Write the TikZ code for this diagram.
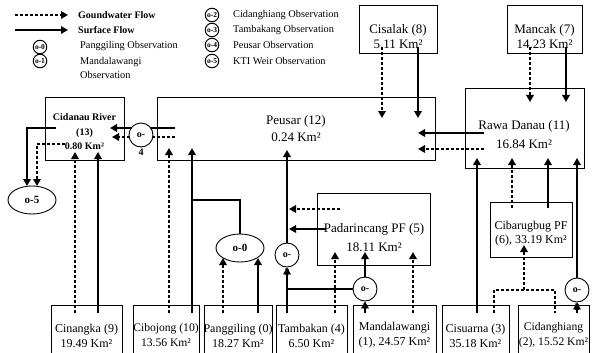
\documentclass[tikz,border=0pt]{standalone}
\usepackage{fontspec}
\setmainfont{Liberation Serif}
\usetikzlibrary{arrows.meta,shapes.geometric}

\begin{document}
\begin{tikzpicture}[x=1pt,y=-1pt,
  box/.style={draw,line width=0.8pt,inner sep=0pt},
  boxtext/.style={align=center,inner sep=0pt,font=\fontsize{13}{15}\selectfont},
  basin/.style={align=center,inner sep=0pt,font=\fontsize{12}{15}\selectfont},
  surf/.style={line width=2.6pt,-{Triangle[length=7pt,width=7.5pt]}},
  gw/.style={line width=2.6pt,dash pattern=on 2.6pt off 2.4pt,-{Triangle[length=7pt,width=7.5pt]}},
  surfline/.style={line width=2.6pt},
  gwline/.style={line width=2.6pt,dash pattern=on 2.6pt off 2.4pt},
  obs/.style={circle,draw,line width=0.9pt,fill=white,minimum size=24pt,inner sep=0pt,
              font=\fontsize{10}{10}\selectfont\bfseries},
  obsnum/.style={inner sep=0pt,label distance=1pt,font=\fontsize{10}{10}\selectfont\bfseries},
  obsbig/.style={ellipse,draw,line width=0.9pt,fill=white,minimum width=48pt,minimum height=28pt,
                 inner sep=0pt,font=\fontsize{11}{11}\selectfont\bfseries},
  legobs/.style={circle,draw,line width=1pt,minimum size=13.5pt,inner sep=0pt,
                 font=\fontsize{7.5}{7.5}\selectfont\bfseries},
  legtext/.style={anchor=west,inner sep=0pt,align=left,font=\fontsize{10.3}{14}\selectfont}]
  \useasboundingbox (0,0) rectangle (592,353);
  \clip (0,0) rectangle (592,353);

  %% Legend
  \coordinate (lgA) at (15,15);  \coordinate (lgB) at (68,15);
  \coordinate (lsA) at (15,30);  \coordinate (lsB) at (68,30);
  \draw[gw] (lgA) -- (lgB);
  \draw[surf] (lsA) -- (lsB);
  \node[legtext,font=\fontsize{10}{14}\selectfont\bfseries] (lgwT) at (78,15) {Goundwater Flow};
  \node[legtext,font=\fontsize{10}{14}\selectfont\bfseries] (lsfT) at (78,30) {Surface Flow};
  \node[legobs] (lo0) at (40,47) {o-0};
  \node[legobs] (lo1) at (40,61) {o-1};
  \node[legtext] (lo0T) at (80,46) {Panggiling Observation};
  \node[legtext] (lo1T) at (80,68) {Mandalawangi\\Observation};
  \node[legobs] (lo2) at (212,15) {o-2};
  \node[legobs] (lo3) at (212,30) {o-3};
  \node[legobs] (lo4) at (212,45) {o-4};
  \node[legobs] (lo5) at (212,61) {o-5};
  \node[legtext] (lo2T) at (233,15) {Cidanghiang Observation};
  \node[legtext] (lo3T) at (233,30) {Tambakang Observation};
  \node[legtext] (lo4T) at (233,45) {Peusar Observation};
  \node[legtext] (lo5T) at (233,61) {KTI Weir Observation};

  %% Upper and middle boxes
  \node[box,minimum width=78pt,minimum height=48pt] (cisalak) at (398,29) {};
  \node[boxtext] (cisalakT) at (398,36.5) {Cisalak (8)\\5.11 Km²};
  \node[box,minimum width=75pt,minimum height=48pt] (mancak) at (544.5,29) {};
  \node[boxtext] (mancakT) at (544.5,36.5) {Mancak (7)\\14.23 Km²};
  \node[box,minimum width=79pt,minimum height=63pt] (cidanau) at (84.5,128.5) {};
  \node[boxtext,font=\fontsize{10}{14.5}\selectfont\bfseries] (cidanauT) at (84.5,132) {Cidanau River\\(13)\\0.80 Km²};
  \node[box,minimum width=278pt,minimum height=63pt] (peusar) at (296,128.5) {};
  \node[boxtext,font=\fontsize{13}{17}\selectfont] (peusarT) at (296,128.5) {Peusar (12)\\0.24 Km²};
  \node[box,minimum width=119pt,minimum height=80pt] (rawa) at (524.5,128) {};
  \node[boxtext,font=\fontsize{13}{19}\selectfont] (rawaT) at (524,134.5) {Rawa Danau (11)\\16.84 Km²};
  \node[box,minimum width=113pt,minimum height=72pt] (padar) at (373.5,229) {};
  \node[boxtext,font=\fontsize{13}{19}\selectfont] (padarT) at (374,237.5) {Padarincang PF (5)\\18.11 Km²};
  \node[box,minimum width=82pt,minimum height=55pt] (cibar) at (531,229.5) {};
  \node[basin,font=\fontsize{12}{14}\selectfont] (cibarT) at (531,234) {Cibarugbug PF\\(6), 33.19 Km²};

  %% Bottom basins
  \node[box,minimum width=71pt,minimum height=65pt] (cinangka) at (86.5,337.5) {};
  \node[box,minimum width=66pt,minimum height=65pt] (cibojong) at (166,337.5) {};
  \node[box,minimum width=68pt,minimum height=65pt] (panggil) at (238,337.5) {};
  \node[box,minimum width=71pt,minimum height=65pt] (tambakan) at (311.5,337.5) {};
  \node[box,minimum width=83pt,minimum height=65pt] (mandala) at (394.5,337.5) {};
  \node[box,minimum width=67pt,minimum height=65pt] (cisuarna) at (475.5,337.5) {};
  \node[box,minimum width=71pt,minimum height=65pt] (cidangh) at (553.5,337.5) {};
  \node[basin] (cinangkaT) at (86.5,335.5) {Cinangka (9)\\19.49 Km²};
  \node[basin,font=\fontsize{11.6}{15}\selectfont] (cibojongT) at (166,335.5) {Cibojong (10)\\13.56 Km²};
  \node[basin] (panggilT) at (238,335.5) {Panggiling (0)\\18.27 Km²};
  \node[basin] (tambakanT) at (311.5,335.5) {Tambakan (4)\\6.50 Km²};
  \node[basin] (mandalaT) at (394.5,335.5) {Mandalawangi\\(1), 24.57 Km²};
  \node[basin] (cisuarnaT) at (475.5,335.5) {Cisuarna (3)\\35.18 Km²};
  \node[basin,font=\fontsize{11.6}{15}\selectfont] (cidanghT) at (553.5,335.5) {Cidanghiang\\(2), 15.52 Km²};

  %% Connector ends
  \coordinate (g8a) at (382,47);   \coordinate (g8b) at (382,118);
  \coordinate (s8a) at (418,47);   \coordinate (s8b) at (418,118);
  \coordinate (g7a) at (530,47);   \coordinate (g7b) at (530,102);
  \coordinate (s7a) at (566,47);   \coordinate (s7b) at (566,102);
  \coordinate (s11a) at (484,133); \coordinate (s11b) at (418,133);
  \coordinate (g11a) at (484,149); \coordinate (g11b) at (418,149);
  \coordinate (s12a) at (175,128); \coordinate (s12b) at (110,128);
  \coordinate (g12a) at (175,137); \coordinate (g12b) at (112,137);
  \coordinate (s13a) at (56,128);  \coordinate (s13b) at (27,186);
  \coordinate (g13a) at (65,144);  \coordinate (g13b) at (37,186);
  \coordinate (g9a) at (75,313);   \coordinate (g9b) at (75,152);
  \coordinate (s9a) at (98,313);   \coordinate (s9b) at (98,152);
  \coordinate (g10a) at (169,313); \coordinate (g10b) at (169,148);
  \coordinate (s10a) at (192,313); \coordinate (s10b) at (192,148);
  \coordinate (j0) at (192,200);
  \coordinate (g0a) at (223,313);  \coordinate (g0b) at (223,258);
  \coordinate (s0a) at (258,313);  \coordinate (s0b) at (258,258);
  \coordinate (s4a) at (287,313);  \coordinate (s4b) at (287,150);
  \coordinate (g4a) at (335,313);  \coordinate (g4b) at (335,252);
  \coordinate (g5a) at (340,209);  \coordinate (g5b) at (289,209);
  \coordinate (s5a) at (326,229);  \coordinate (s5b) at (289,229);
  \coordinate (s1a) at (365,313);  \coordinate (s1b) at (365,252);
  \coordinate (j1) at (287,289);
  \coordinate (g1a) at (413,313);  \coordinate (g1b) at (413,252);
  \coordinate (s3a) at (477,313);  \coordinate (s3b) at (477,158);
  \coordinate (g3a) at (494,313);  \coordinate (g2a) at (555,313);
  \coordinate (g6j) at (524,290);  \coordinate (g6b) at (524,245);
  \coordinate (s2a) at (577,313);  \coordinate (s2b) at (577,158);
  \coordinate (g6a) at (512,208);  \coordinate (g6c) at (512,158);
  \coordinate (s6a) at (548,208);  \coordinate (s6b) at (548,158);

  %% Observation points
  \node[obsbig] (o5) at (32,200) {o-5};
  \node[obsbig] (o0) at (240,248) {o-0};
  \node[obs,label={[obsnum]below:3}] (o3) at (287,255) {o-};
  \node[obs,label={[obsnum]below:1}] (o1) at (365,289) {o-};
  \node[obs,label={[obsnum]below:2}] (o2) at (577,290) {o-};

  %% Flows
  \draw[gw] (g8a) -- (g8b);
  \draw[surf] (s8a) -- (s8b);
  \draw[gw] (g7a) -- (g7b);
  \draw[surf] (s7a) -- (s7b);
  \draw[surf] (s11a) -- (s11b);
  \draw[gw] (g11a) -- (g11b);
  \draw[surf] (s12a) -- (s12b);
  \draw[gw] (g12a) -- (g12b);
  \draw[surf] (s13a) -| (s13b);
  \draw[gw] (g13a) -| (g13b);
  \draw[gw] (g9a) -- (g9b);
  \draw[surf] (s9a) -- (s9b);
  \draw[gw] (g10a) -- (g10b);
  \draw[surf] (s10a) -- (s10b);
  \draw[surfline] (o0.north) |- (j0);
  \draw[gw] (g0a) -- (g0b);
  \draw[surf] (s0a) -- (s0b);
  \draw[surf] (s4a) -- (o3.south);
  \draw[surf] (o3.north) -- (s4b);
  \draw[gw] (g4a) -- (g4b);
  \draw[gw] (g5a) -- (g5b);
  \draw[surf] (s5a) -- (s5b);
  \draw[surf] (s1a) -- (o1.south);
  \draw[surf] (o1.north) -- (s1b);
  \draw[surfline] (o1.west) -- (j1);
  \draw[gw] (g1a) -- (g1b);
  \draw[surf] (s3a) -- (s3b);
  \draw[gwline] (g3a) |- (g2a |- g6j) -- (g2a);
  \draw[gw] (g6j) -- (g6b);
  \draw[surf] (s2a) -- (o2.south);
  \draw[surf] (o2.north) -- (s2b);
  \draw[gw] (g6a) -- (g6c);
  \draw[surf] (s6a) -- (s6b);

  %% o-4 sits on the Peusar outflow
  \node[obs,label={[obsnum]below:4}] (o4) at (141,135) {o-};
\end{tikzpicture}
\end{document}
